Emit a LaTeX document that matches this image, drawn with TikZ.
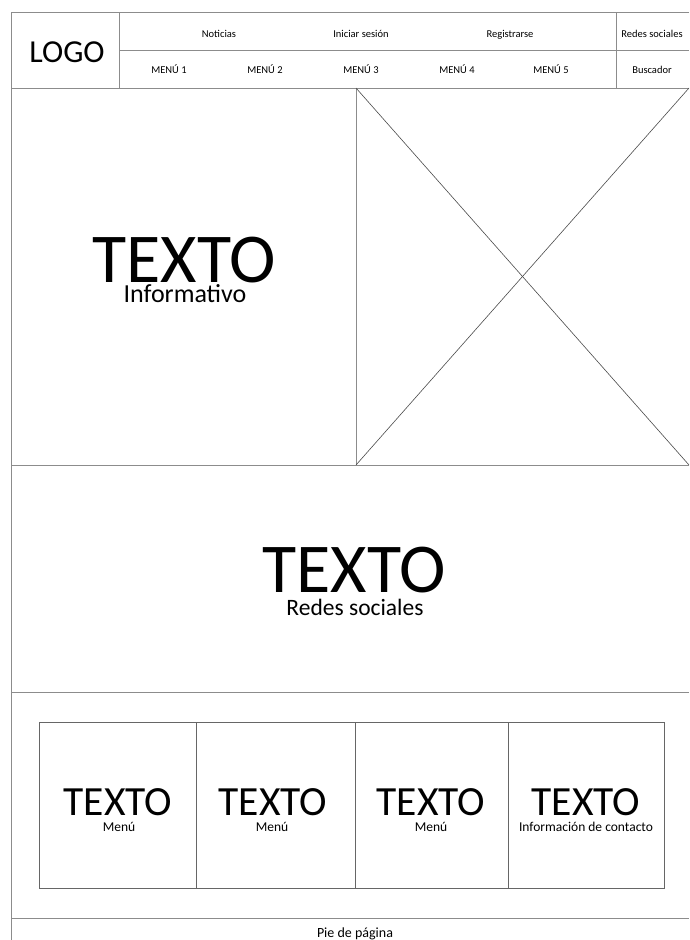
\documentclass[tikz,border=0pt]{standalone}
\usepackage{fontspec}
\setmainfont{Carlito}
\begin{document}
\begin{tikzpicture}[x=1pt,y=-1pt,
  frame/.style={draw=black!45,line width=0.9pt},
  inner/.style={draw=black!60,line width=0.8pt},
  xline/.style={draw=black!70,line width=0.6pt},
  txt/.style={inner sep=0pt,anchor=base},
  lbl/.style={txt,font=\fontsize{10.5}{12}\selectfont},
  big/.style={txt,font=\fontsize{70}{72}\selectfont},
  mid/.style={txt,font=\fontsize{41.5}{44}\selectfont},
  small/.style={txt,font=\fontsize{13.5}{15}\selectfont}]
\useasboundingbox (0,0) rectangle (689,940);
\fill[white] (0,0) rectangle (689,940);
% outer frame
\draw[frame] (689,12) -- (11,12) -- (11,940);
\draw[frame] (11,88) -- (689,88);
\draw[frame] (119,12) -- (119,88);
\draw[frame] (119,50) -- (689,50);
\draw[frame] (616,12) -- (616,88);
\draw[frame] (11,465) -- (689,465);
\draw[frame] (356,88) -- (356,465);
\draw[frame] (11,692) -- (689,692);
\draw[frame] (11,918) -- (689,918);
% image placeholder X
\draw[xline] (356,88) -- (689,465);
\draw[xline] (356,465) -- (689,88);
% inner boxes
\draw[inner] (39,722) rectangle (664,888);
\draw[inner] (196,722) -- (196,888);
\draw[inner] (355,722) -- (355,888);
\draw[inner] (508,722) -- (508,888);
% header texts
\node[txt,font=\fontsize{32}{34}\selectfont] (logo) at (67,62) {LOGO};
\node[lbl] (n1) at (219,37) {Noticias};
\node[lbl] (n2) at (361,37) {Iniciar sesión};
\node[lbl] (n3) at (510,37) {Registrarse};
\node[lbl] (n4) at (652,37) {Redes sociales};
\node[lbl] (m1) at (169,73) {MENÚ 1};
\node[lbl] (m2) at (265,73) {MENÚ 2};
\node[lbl] (m3) at (361,73) {MENÚ 3};
\node[lbl] (m4) at (457,73) {MENÚ 4};
\node[lbl] (m5) at (551,73) {MENÚ 5};
\node[lbl] (bus) at (652,73) {Buscador};
% main texts
\node[big] (t1) at (184,282) {TEXTO};
\node[txt,font=\fontsize{26}{28}\selectfont] (s1) at (185,302) {Informativo};
\node[big] (t2) at (354,592) {TEXTO};
\node[txt,font=\fontsize{23.5}{26}\selectfont] (s2) at (355,615) {Redes sociales};
% bottom boxes
\node[mid] (b1) at (118,815) {TEXTO};
\node[small] (c1) at (119,831) {Menú};
\node[mid] (b2) at (273,815) {TEXTO};
\node[small] (c2) at (272,831) {Menú};
\node[mid] (b3) at (431,815) {TEXTO};
\node[small] (c3) at (431,831) {Menú};
\node[mid] (b4) at (586,815) {TEXTO};
\node[small] (c4) at (586,831) {Información de contacto};
% footer
\node[txt,font=\fontsize{14}{16}\selectfont] (pie) at (355,937) {Pie de página};
\end{tikzpicture}
\end{document}
